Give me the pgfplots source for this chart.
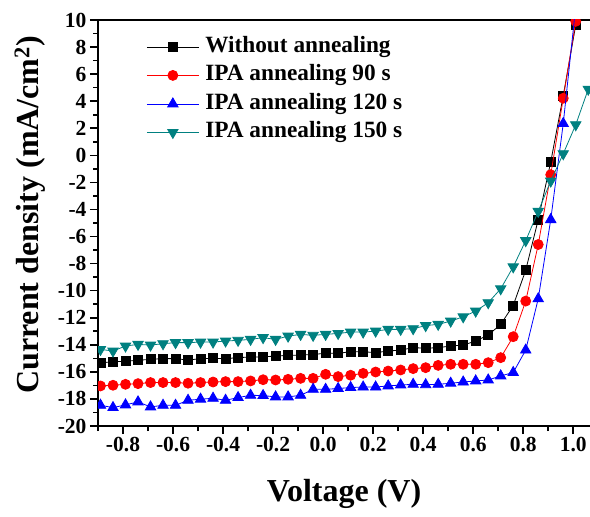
\documentclass[border=0pt]{standalone}
\usepackage{fontspec}
\setmainfont{Liberation Serif}
\usepackage{pgfplots}
\pgfplotsset{compat=1.18}
\definecolor{tealc}{RGB}{0,128,128}
\begin{document}
\begin{tikzpicture}
\begin{axis}[
  name=ax,
  scale only axis, width=492pt, height=406pt,
  xmin=-0.9, xmax=1.067, ymin=-20, ymax=10,
  axis x line=box, axis y line=left,
  axis line style={-, line width=2.2pt},
  xtick pos=bottom, ytick pos=left,
  xtick={-0.8,-0.6,-0.4,-0.2,0,0.2,0.4,0.6,0.8,1.0},
  minor xtick={-0.9,-0.7,-0.5,-0.3,-0.1,0.1,0.3,0.5,0.7,0.9},
  ytick={-20,-18,...,10},
  minor ytick={-19,-17,...,9},
  tick align=outside,
  major tick length=8pt, minor tick length=5pt,
  every tick/.style={line width=1.6pt, black},
  /pgf/number format/assume math mode=true,
  xticklabel style={/pgf/number format/.cd, fixed, fixed zerofill, precision=1},
  ticklabel style={font=\fontsize{21.5}{24}\selectfont\bfseries},
  xlabel={Voltage (V)},
  ylabel={Current density (mA/cm\textsuperscript{2})},
  label style={font=\fontsize{32}{36}\selectfont\bfseries},
  x label style={at={([yshift=-68pt]rel axis cs:0.5,0)}, anchor=center},
  y label style={at={([xshift=-68pt]rel axis cs:0,0.52)}, anchor=center},
  clip marker paths=true,
  legend style={at={(rel axis cs:0.092,0.965)}, anchor=north west, draw=none, fill=none,
    font=\fontsize{23.3}{28}\selectfont\bfseries,
    nodes={inner sep=0pt, text height=16pt, text depth=5pt},
    row sep=7.5pt,
    /tikz/every odd column/.append style={column sep=6pt}},
  legend cell align=left,
  legend image code/.code={\draw[mark repeat=2,mark phase=2] plot coordinates {(0pt,0pt) (26pt,0pt) (52pt,0pt)};},
  every axis plot/.append style={line width=0.8pt},
]
\addplot[black, mark=square*, mark size=4.5pt] coordinates {
(-0.89,-15.32) (-0.84,-15.27) (-0.79,-15.20) (-0.74,-15.15) (-0.69,-15.07) (-0.64,-15.02)
(-0.59,-15.02) (-0.54,-15.13) (-0.49,-15.02) (-0.44,-15.00) (-0.39,-15.02) (-0.34,-14.95)
(-0.29,-14.90) (-0.24,-14.89) (-0.19,-14.83) (-0.14,-14.78) (-0.09,-14.76) (-0.04,-14.71)
(0.01,-14.63) (0.06,-14.63) (0.11,-14.51) (0.16,-14.51) (0.21,-14.58) (0.26,-14.46)
(0.31,-14.39) (0.36,-14.21) (0.41,-14.25) (0.46,-14.21) (0.51,-14.09) (0.56,-14.02)
(0.61,-13.72) (0.66,-13.28) (0.71,-12.49) (0.76,-11.09) (0.81,-8.49) (0.86,-4.75)
(0.91,-0.49) (0.96,4.40) (1.01,9.63)
};
\addlegendentry{Without annealing}
\addplot[red, mark=*, mark size=5pt] coordinates {
(-0.89,-17.04) (-0.84,-16.99) (-0.79,-16.92) (-0.74,-16.87) (-0.69,-16.79) (-0.64,-16.79)
(-0.59,-16.79) (-0.54,-16.84) (-0.49,-16.79) (-0.44,-16.75) (-0.39,-16.72) (-0.34,-16.72)
(-0.29,-16.67) (-0.24,-16.58) (-0.19,-16.60) (-0.14,-16.55) (-0.09,-16.48) (-0.04,-16.48)
(0.01,-16.18) (0.06,-16.35) (0.11,-16.25) (0.16,-16.11) (0.21,-16.01) (0.26,-15.94)
(0.31,-15.86) (0.36,-15.76) (0.41,-15.69) (0.46,-15.52) (0.51,-15.44) (0.56,-15.44)
(0.61,-15.44) (0.66,-15.32) (0.71,-14.95) (0.76,-13.40) (0.81,-10.77) (0.86,-6.59)
(0.91,-1.43) (0.96,4.22) (1.01,9.90)
};
\addlegendentry{IPA annealing 90 s}
\addplot[blue, mark=triangle*, mark size=6pt] coordinates {
(-0.89,-18.47) (-0.84,-18.64) (-0.79,-18.44) (-0.74,-18.22) (-0.69,-18.59) (-0.64,-18.47)
(-0.59,-18.47) (-0.54,-18.10) (-0.49,-18.02) (-0.44,-17.95) (-0.39,-18.10) (-0.34,-17.90)
(-0.29,-17.73) (-0.24,-17.75) (-0.19,-17.85) (-0.14,-17.85) (-0.09,-17.73) (-0.04,-17.29)
(0.01,-17.29) (0.06,-17.23) (0.11,-17.16) (0.16,-17.12) (0.21,-17.12) (0.26,-17.04)
(0.31,-16.97) (0.36,-16.92) (0.41,-16.95) (0.46,-16.92) (0.51,-16.84) (0.56,-16.75)
(0.61,-16.67) (0.66,-16.60) (0.71,-16.30) (0.76,-16.05) (0.81,-14.39) (0.86,-10.60)
(0.91,-4.75) (0.96,2.35) (1.01,11.0)
};
\addlegendentry{IPA annealing 120 s}
\addplot[tealc, mark=triangle*, mark size=6pt, mark options={rotate=180}] coordinates {
(-0.89,-14.34) (-0.84,-14.46) (-0.79,-14.09) (-0.74,-13.97) (-0.69,-14.02) (-0.64,-13.92)
(-0.59,-13.84) (-0.54,-13.84) (-0.49,-13.80) (-0.44,-13.80) (-0.39,-13.72) (-0.34,-13.67)
(-0.29,-13.60) (-0.24,-13.47) (-0.19,-13.60) (-0.14,-13.36) (-0.09,-13.23) (-0.04,-13.30)
(0.01,-13.23) (0.06,-13.16) (0.11,-13.06) (0.16,-13.06) (0.21,-12.99) (0.26,-12.86)
(0.31,-12.86) (0.36,-12.81) (0.41,-12.58) (0.46,-12.49) (0.51,-12.25) (0.56,-11.93)
(0.61,-11.51) (0.66,-10.89) (0.71,-9.86) (0.76,-8.24) (0.81,-6.30) (0.86,-4.14)
(0.91,-1.90) (0.96,0.12) (1.01,2.26) (1.06,4.89)
};
\addlegendentry{IPA annealing 150 s}
\end{axis}
\pgfresetboundingbox
\path ([xshift=-98pt,yshift=-90pt]ax.south west) rectangle ([yshift=20pt]ax.north east);
\end{tikzpicture}
\end{document}
